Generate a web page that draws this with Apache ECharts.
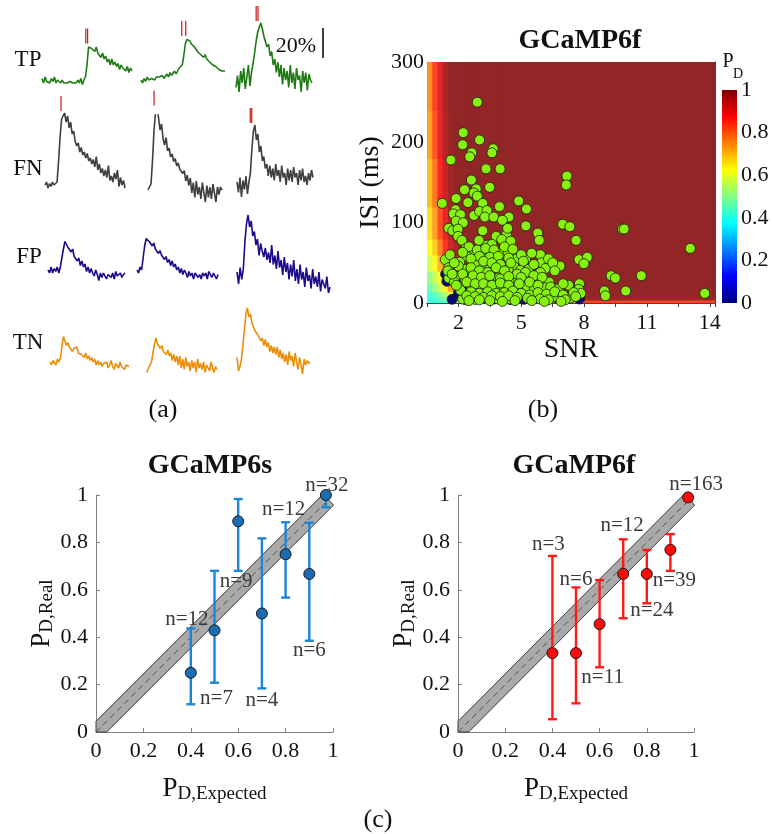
<!DOCTYPE html>
<html>
<head>
<meta charset="utf-8">
<script src="https://cdn.jsdelivr.net/npm/echarts@6/dist/echarts.min.js"></script>
<style>
  html, body { margin: 0; padding: 0; background: #fff; }
  #chart { width: 772px; height: 834px; }
</style>
</head>
<body>
<div id="chart"></div>
<script>
// ---------------- (a) example fluorescence traces, dF/F in % ----------------
const tp1 = [1,-2,2,-1,0,-2,1,-1,2,-2,0,-1,-2,0,-2,-1,-2,-2,-1,-2,-2,-1,-2,0,-2,1,-3,0,2,10,22,23,21,22,19,22,18,18,15,18,14,16,12,14,10,14,10,12,9,11,7,10,8,9,6,9,5,8,6];
const tp2 = [0,-2,1,-1,2,0,-1,1,2,0,2,1,2,2,3,1,2,4,2,5,3,4,6,4,6,8,7,10,16,24,27,28,26,24,25,22,22,19,20,17,18,15,17,14,14,12,13,10,11,9,10,7,8,6,7,6];
const tp3 = [-5,3,-8,6,-2,8,-6,2,10,-4,5,11,18,26,32,35,38,34,29,30,22,24,16,19,10,14,5,12,2,10,-3,8,0,6,-5,10,-2,5,-6,8,0,3,-8,6,-2,5,-7,4,0,-2];
const fn1 = [0,2,-2,1,-1,2,0,1,2,16,32,44,46,48,42,46,38,42,34,36,29,26,28,22,25,20,22,18,21,16,18,14,17,12,19,10,14,8,11,6,10,5,13,3,6,2,8,4,10,-1,5,0,3,-2];
const fn2 = [0,2,4,20,40,52,55,48,40,44,34,30,35,26,28,22,24,19,21,16,18,14,15,11,13,6,10,3,8,-2,5,-5,6,-3,2,-6,5,-2,-8,3,-5,2,-6,4,-2,-8,2,-3,2,0];
const fn3 = [2,-5,5,-8,3,-3,6,-6,2,8,24,36,40,30,34,22,26,16,19,11,14,6,13,5,11,3,14,6,10,2,13,5,8,0,11,3,10,2,12,5,8,0,10,3,11,2,6,0,8,3,10,5];
const fp1 = [0,-2,2,-2,1,-1,2,-2,2,8,14,19,18,15,16,12,14,9,10,6,8,3,6,2,4,-1,2,-2,1,-2,-4,0,-3,-7,-2,-5,-2,-1,-6,-3,-2,-5,-2,-6,-1,-4,-3,-2,-5,-3,-2];
const fp2 = [0,-2,2,0,8,16,21,22,19,20,16,18,14,15,11,13,10,10,7,9,5,7,3,6,2,4,0,2,-2,1,-3,0,-2,-5,-1,-4,-2,-6,-2,-1,-5,-3,-6,-2,-4,-2,-6,-1,-3,-5,-2,-4,-6,-3];
const fp3 = [0,-8,3,-5,2,20,32,38,30,34,24,27,18,22,11,19,14,10,16,8,13,6,18,5,11,2,14,3,8,-2,10,0,6,-5,5,-3,8,-6,2,-8,5,-5,0,-10,3,-6,-2,-11,2,-8,-3,-10,0,-13,-5,-8,-11,-3,-14,-10];
const tn1 = [0,-2,1,2,-2,2,0,3,10,17,14,11,13,10,10,7,9,8,10,6,7,5,6,3,6,2,4,1,3,0,2,-2,1,-2,0,-3,-1,-2,0,-4,-2,1,-3,-5,-1,-2,-4,0,-3,-2,-5,-2,-1,-3];
const tn2 = [-5,-2,0,2,8,14,18,14,15,11,13,9,10,7,10,6,8,3,7,2,6,0,6,-2,4,-3,5,-1,2,-4,3,-2,2,-5,4,-2,1,-3,2,-5,0,-2,-4,2,-2,-5,-1,-3];
const tn3 = [3,-6,-3,2,11,22,32,36,30,32,26,27,21,22,18,19,14,16,11,15,10,13,7,11,6,10,5,10,3,8,2,6,0,5,-2,7,1,4,-3,6,0,-5,3,-2,-8,2,-2,1,-1,0];
// detected spike times (sample index) per trace
const tpSpikes = [[28.2, 29.4], [26.7, 29.3], [13.0, 14.2]];
const fnSpikes = [[10.6], [4.0], [8.9, 9.9]];
const scaleBarPercent = 20;

// ---------------- (b) detection probability map, GCaMP6f ----------------
const snrEdges = [0.5, 0.75, 1.0, 1.25, 1.5, 1.75, 2.0, 2.5, 3.0, 4.0, 8.0, 14.25];
const isiEdges = [0, 4, 8, 15, 25, 40, 60, 80, 120, 180, 240, 300];
const pdRow0  = [0.40, 0.40, 0.41, 0.43, 0.46, 0.52, 0.62, 0.68, 0.70, 0.72, 0.84];
const pdRow1  = [0.40, 0.42, 0.45, 0.48, 0.53, 0.60, 0.74, 0.88, 0.96, 0.98, 0.99];
const pdRow2  = [0.42, 0.45, 0.49, 0.54, 0.60, 0.70, 0.86, 0.96, 0.99, 1, 1];
const pdRow3  = [0.46, 0.51, 0.57, 0.64, 0.73, 0.83, 0.94, 0.99, 1, 1, 1];
const pdRow4  = [0.51, 0.56, 0.63, 0.72, 0.82, 0.90, 0.97, 1, 1, 1, 1];
const pdRow5  = [0.58, 0.63, 0.71, 0.80, 0.88, 0.95, 0.99, 1, 1, 1, 1];
const pdRow6  = [0.62, 0.68, 0.77, 0.86, 0.93, 0.97, 1, 1, 1, 1, 1];
const pdRow7  = [0.66, 0.73, 0.83, 0.90, 0.96, 0.99, 1, 1, 1, 1, 1];
const pdRow8  = [0.70, 0.78, 0.88, 0.94, 0.98, 1, 1, 1, 1, 1, 1];
const pdRow9  = [0.73, 0.82, 0.90, 0.96, 0.99, 1, 1, 1, 1, 1, 1];
const pdRow10 = [0.75, 0.84, 0.91, 0.97, 1, 1, 1, 1, 1, 1, 1];
const pdRows = [pdRow0, pdRow1, pdRow2, pdRow3, pdRow4, pdRow5, pdRow6, pdRow7, pdRow8, pdRow9, pdRow10];

// recorded events [SNR, ISI ms]
const detectedEvents = [
  [2.90,250],[2.23,212],[3.01,203],[2.20,197],[2.64,187],[2.54,182],[3.66,192],[3.60,187],[1.64,178],[3.32,167],
  [3.99,167],[2.62,153],[3.49,144],[2.29,141],[2.85,142],[2.74,137],[2.90,133],[1.89,130],[2.45,125],[1.23,124],
  [3.16,124],[1.86,116],[1.76,111],[2.10,110],[2.74,109],[3.01,114],[3.36,115],[3.26,107],[3.69,107],[3.96,120],
  [4.41,107],[4.10,103],[1.89,102],[2.23,100],[4.88,127],[5.25,117],[1.54,93],[1.73,90],[1.98,92],[3.16,90],
  [3.80,83],[4.29,85],[4.35,93],[5.22,96],[5.79,87],[5.86,78],[6.98,98],[7.32,95],[7.18,158],[7.15,147],
  [7.62,78],[9.83,92],[9.91,92],[13.07,68],[1.98,83],[2.17,78],[2.36,68],[2.98,78],[3.37,72],[3.60,73],
  [4.07,79],[4.50,77],[2.74,61],[3.13,61],[3.52,62],[4.04,62],[4.38,63],[4.77,55],[5.21,55],[5.91,60],
  [7.76,54],[8.15,57],[7.99,49],[1.37,54],[2.07,51],[2.43,58],[2.88,47],[3.32,45],[3.83,52],[4.25,44],
  [4.66,45],[5.97,50],[6.15,43],[6.79,45],[6.85,46],[1.54,44],[2.36,42],[3.13,43],[3.44,41],[3.99,39],
  [4.38,42],[4.97,41],[5.35,42],[5.91,38],[9.29,34],[9.49,31],[10.73,34],[1.54,31],[1.89,33],[2.32,29],
  [2.54,24],[2.90,29],[3.29,31],[3.60,28],[3.91,31],[4.46,27],[4.88,29],[5.44,31],[5.93,28],[6.33,26],
  [2.04,20],[2.98,19],[3.37,21],[3.83,19],[4.19,17],[4.69,20],[5.28,21],[5.63,17],[6.12,19],[7.26,22],
  [7.78,24],[7.73,17],[8.97,15],[9.99,15],[9.02,9],[13.76,12],[2.20,5],[2.80,4.5],[3.88,5],[4.46,5],
  [5.63,8],[6.05,8],[6.56,8],[6.95,11],[7.34,6],[7.84,12],
  [2.5,70],[2.9,66],[3.3,68],[3.7,66],[4.2,70],[4.6,67],[2.2,63],[3.0,58],[3.5,57],[3.9,58],
  [4.4,56],[5.0,60],[5.5,62],[2.6,55],[3.2,52],[3.6,50],[4.0,48],[4.5,50],[5.1,52],[5.6,48],
  [6.3,55],[6.5,50],[2.0,46],[2.6,44],[3.0,40],[3.4,38],[3.8,44],[4.2,40],[4.8,36],[5.2,38],
  [5.6,34],[6.0,32],[6.6,40],[2.2,36],[2.7,34],[3.1,32],[3.5,34],[4.0,30],[4.4,33],[5.0,32],
  [5.4,26],[5.8,22],[6.4,20],[6.8,18],[7.0,24],[1.8,26],[2.4,26],[2.8,24],[3.2,24],[3.6,22],
  [4.0,25],[4.4,22],[4.9,24],[2.1,16],[2.6,14],[3.0,12],[3.4,14],[3.8,12],[4.2,13],[4.6,15],
  [5.0,12],[5.4,10],[5.8,13],[6.2,11],[6.6,14],[7.0,10],[7.5,13],[2.4,9],[2.8,8],[3.2,7],
  [3.6,9],[4.0,8],[4.4,9],[4.8,7],[5.3,6],[5.9,5],[6.3,4],[7.1,4],[7.6,8],[2.5,3],
  [3.0,4],[3.5,3],[4.1,2],[4.7,3],[5.5,3],[6.1,2],[6.9,2],[1.6,60],[1.8,50],[1.5,40],
  [1.7,36],[1.9,22]
];
const missedEvents = [
  [1.39,36],[2.12,32],[2.43,22],[2.62,17],[2.95,15],[3.15,10],[1.70,4.6],[2.66,7.8],[3.32,5.8],[5.13,4.6],
  [6.79,4.6],[7.78,5],[1.45,27],[2.0,12],[3.7,5],[4.5,4],[2.35,4]
];

// ---------------- (c) expected vs. measured detection probability ----------------
const pdExpected6s = [0.4, 0.5, 0.6, 0.7, 0.8, 0.9, 0.97];
const pdReal6s     = [0.25, 0.429, 0.889, 0.5, 0.75, 0.667, 1.0];
const pdLow6s      = [0.117, 0.208, 0.68, 0.184, 0.567, 0.385, 0.948];
const pdHigh6s     = [0.437, 0.68, 0.983, 0.817, 0.885, 0.883, 1.0];
const count6s      = [12, 7, 9, 4, 12, 6, 32];

const pdExpected6f = [0.4, 0.5, 0.6, 0.7, 0.8, 0.9, 0.975];
const pdReal6f     = [0.333, 0.333, 0.455, 0.667, 0.667, 0.769, 0.99];
const pdLow6f      = [0.054, 0.121, 0.273, 0.48, 0.543, 0.68, 0.975];
const pdHigh6f     = [0.743, 0.61, 0.641, 0.813, 0.768, 0.835, 1.0];
const count6f      = [3, 6, 11, 12, 24, 39, 163];

const tolerance = 0.045;   // half-height of the grey agreement band
const bandEnd = 0.98;

// ================= layout & styling =================
const SERIF = '"Liberation Serif", "Times New Roman", serif';
const jet = ['#00007f', '#0000ff', '#007fff', '#00ffff', '#7fff7f', '#ffff00', '#ff7f00', '#ff0000', '#7f0000'];
// the surface is drawn slightly washed out (85 % colour over white)
function soften(hex, k) {
  const n = parseInt(hex.slice(1), 16);
  const ch = [(n >> 16) & 255, (n >> 8) & 255, n & 255].map(v => Math.round(v * k + 255 * (1 - k)));
  return 'rgb(' + ch.join(',') + ')';
}
const jetSoft = jet.map(c => soften(c, 0.85));

const grids = [], xAxes = [], yAxes = [], series = [], graphics = [];
function addGrid(g, xa, ya) {
  grids.push(g);
  const gi = grids.length - 1;
  xAxes.push(Object.assign({ gridIndex: gi }, xa));
  yAxes.push(Object.assign({ gridIndex: gi }, ya));
  return { gi, xi: xAxes.length - 1, yi: yAxes.length - 1 };
}
function text(x, y, str, size, extra) {
  graphics.push({
    type: 'text', x, y, silent: true,
    style: Object.assign({ text: str, fontFamily: SERIF, fontSize: size, fill: '#111', align: 'center', verticalAlign: 'middle' }, extra || {})
  });
}

// ---- (a) traces ----
const pxPerPercent = 1.5, traceMin = -20, traceMax = 50;
const traceRows = [
  { label: 'TP', color: '#1e7b14', traces: [tp1, tp2, tp3], spikes: tpSpikes, labelPos: [28, 60] },
  { label: 'FN', color: '#3f3f3f', traces: [fn1, fn2, fn3], spikes: fnSpikes, labelPos: [28, 169] },
  { label: 'FP', color: '#1b0a8a', traces: [fp1, fp2, fp3], spikes: [[], [], []], labelPos: [29, 257] },
  { label: 'TN', color: '#ea8f0c', traces: [tn1, tn2, tn3], spikes: [[], [], []], labelPos: [28, 343] }
];
const traceBoxes = [
  [[42, 132, 80], [141, 225, 80], [236, 312, 80]],
  [[45, 125, 185], [148, 222, 190], [237, 313, 185]],
  [[48, 125, 270], [137, 218, 270], [237, 330, 272]],
  [[50, 129, 362], [147, 217, 365], [237, 310, 362]]
];
traceRows.forEach((row, r) => {
  text(row.labelPos[0], row.labelPos[1], row.label, 23);
  row.traces.forEach((tr, c) => {
    const [l, rgt, base] = traceBoxes[r][c];
    const ax = addGrid(
      { left: l, width: rgt - l, top: base - traceMax * pxPerPercent, height: (traceMax - traceMin) * pxPerPercent },
      { type: 'value', min: 0, max: tr.length - 1, show: false },
      { type: 'value', min: traceMin, max: traceMax, show: false }
    );
    series.push({
      type: 'line', xAxisIndex: ax.xi, yAxisIndex: ax.yi, silent: true,
      data: tr.map((v, i) => [i, v]), showSymbol: false, animation: false,
      lineStyle: { color: row.color, width: 1.6 }
    });
    const peak = Math.max.apply(null, tr);
    if (row.spikes[c].length) {
      series.push({
        type: 'custom', xAxisIndex: ax.xi, yAxisIndex: ax.yi, silent: true, clip: false, animation: false,
        data: row.spikes[c].map(t => [t]),
        renderItem: (p, api) => {
          const pt = api.coord([api.value(0), peak]);
          return { type: 'line', shape: { x1: pt[0], y1: pt[1] - 2, x2: pt[0], y2: pt[1] - 17 },
                   style: { stroke: '#c41a1a', lineWidth: 1.2 } };
        }
      });
    }
  });
});
// 20 % scale bar
{
  const ax = addGrid(
    { left: 318, width: 10, top: 28, height: scaleBarPercent * pxPerPercent },
    { type: 'value', min: -1, max: 1, show: false },
    { type: 'value', min: 0, max: scaleBarPercent, show: false }
  );
  series.push({ type: 'line', xAxisIndex: ax.xi, yAxisIndex: ax.yi, silent: true, animation: false,
    data: [[0, 0], [0, scaleBarPercent]], showSymbol: false, lineStyle: { color: '#111', width: 1.6 } });
  text(296, 46, scaleBarPercent + '%', 22);
}

// ---- (b) detection probability map ----
const frameColor = '#444';
const mapAx = addGrid(
  { left: 427, top: 62, width: 288, height: 241 },
  { type: 'value', min: 0.5, max: 14.25, interval: 1.5,
    name: 'SNR', nameLocation: 'middle', nameGap: 33,
    nameTextStyle: { fontFamily: SERIF, fontSize: 28, color: '#111' },
    axisLine: { lineStyle: { color: frameColor } }, splitLine: { show: false },
    axisTick: { inside: true, length: 4, lineStyle: { color: frameColor } },
    axisLabel: { fontFamily: SERIF, fontSize: 22, color: '#111', margin: 9, showMaxLabel: false,
      formatter: v => { const k = (v - 2) / 3; return Math.abs(k - Math.round(k)) < 1e-6 ? String(Math.round(v)) : ''; } } },
  { type: 'value', min: 0, max: 300, interval: 50,
    name: 'ISI (ms)', nameLocation: 'middle', nameGap: 42, nameRotate: 90,
    nameTextStyle: { fontFamily: SERIF, fontSize: 28, color: '#111' },
    axisLine: { lineStyle: { color: frameColor } }, splitLine: { show: false },
    axisTick: { inside: true, length: 4, lineStyle: { color: frameColor } },
    axisLabel: { fontFamily: SERIF, fontSize: 22, color: '#111', margin: 3,
      formatter: v => (v % 100 === 0 ? String(v) : '') } }
);
// frame: top and right axes with ticks only
xAxes.push({ gridIndex: mapAx.gi, type: 'value', position: 'top', min: 0.5, max: 14.25, interval: 1.5,
  axisLine: { lineStyle: { color: frameColor } }, axisTick: { inside: true, length: 4, lineStyle: { color: frameColor } },
  axisLabel: { show: false }, splitLine: { show: false } });
yAxes.push({ gridIndex: mapAx.gi, type: 'value', position: 'right', min: 0, max: 300, interval: 50,
  axisLine: { lineStyle: { color: frameColor } }, axisTick: { inside: true, length: 4, lineStyle: { color: frameColor } },
  axisLabel: { show: false }, splitLine: { show: false } });

const mapCells = [];
pdRows.forEach((row, r) => row.forEach((pd, c) => {
  mapCells.push([snrEdges[c], snrEdges[c + 1], isiEdges[r], isiEdges[r + 1], pd]);
}));
const heatIndex = series.length;
series.push({
  type: 'custom', xAxisIndex: mapAx.xi, yAxisIndex: mapAx.yi, silent: true, animation: false, clip: true,
  data: mapCells, z: 1,
  renderItem: (p, api) => {
    const a = api.coord([api.value(0), api.value(3)]);
    const b = api.coord([api.value(1), api.value(2)]);
    return { type: 'rect', shape: { x: a[0], y: a[1], width: b[0] - a[0] + 0.8, height: b[1] - a[1] + 0.8 },
             style: { fill: api.visual('color') } };
  }
});
series.push({
  type: 'scatter', xAxisIndex: mapAx.xi, yAxisIndex: mapAx.yi, silent: true, animation: false, z: 3,
  data: missedEvents, symbolSize: 10,
  itemStyle: { color: '#0a0a7a', borderColor: '#111', borderWidth: 0.8, opacity: 1 }
});
series.push({
  type: 'scatter', xAxisIndex: mapAx.xi, yAxisIndex: mapAx.yi, silent: true, animation: false, z: 4,
  data: detectedEvents, symbolSize: 10,
  itemStyle: { color: '#86f20e', borderColor: '#1a1a1a', borderWidth: 0.8, opacity: 1 }
});

// colour bar
const cbAx = addGrid(
  { left: 722, top: 90, width: 15, height: 213 },
  { type: 'value', min: 0, max: 1, show: false },
  { type: 'value', min: 0, max: 1, interval: 0.2, position: 'right',
    axisLine: { show: false }, axisTick: { show: false }, splitLine: { show: false },
    axisLabel: { fontFamily: SERIF, fontSize: 22, color: '#111', margin: 4,
      formatter: v => String(+v.toFixed(1)) } }
);
series.push({
  type: 'custom', xAxisIndex: cbAx.xi, yAxisIndex: cbAx.yi, silent: true, animation: false,
  data: [[0, 0, 1, 1]],
  renderItem: (p, api) => {
    const a = api.coord([api.value(0), api.value(3)]);
    const b = api.coord([api.value(2), api.value(1)]);
    return { type: 'rect', shape: { x: a[0], y: a[1], width: b[0] - a[0], height: b[1] - a[1] },
      style: { fill: new echarts.graphic.LinearGradient(0, 1, 0, 0, jet.map((c, i) => ({ offset: i / (jet.length - 1), color: c }))) } };
  }
});
text(728, 62, 'P', 20);
text(738, 74, 'D', 14);
text(580, 41, 'GCaMP6f', 28, { fontWeight: 'bold' });

// ---- (c) calibration plots ----
const axisGrey = '#808080';
function calibAxis(isY, name) {
  return {
    type: 'value', min: 0, max: 1, interval: 0.2,
    name: name, nameLocation: 'middle', nameGap: isY ? 38 : 33, nameRotate: isY ? 90 : 0,
    nameTextStyle: {
      fontFamily: SERIF, color: '#111',
      rich: {
        p: { fontFamily: SERIF, fontSize: 27, color: '#111', verticalAlign: 'top', lineHeight: 28 },
        s: { fontFamily: SERIF, fontSize: 19, color: '#111', verticalAlign: 'bottom', lineHeight: 19, padding: [22, 0, 0, 0] }
      }
    },
    axisLine: { lineStyle: { color: axisGrey } },
    axisTick: { inside: true, length: 4, lineStyle: { color: axisGrey } },
    splitLine: { show: false },
    axisLabel: { fontFamily: SERIF, fontSize: 22, color: '#111', margin: 8,
      formatter: v => String(+v.toFixed(1)) }
  };
}
function calibPanel(box, xs, ys, lo, hi, counts, offsets, barColor, dotColor, title) {
  const ax = addGrid(box, calibAxis(false, '{p|P}{s|D,Expected}'), calibAxis(true, '{p|P}{s|D,Real}'));
  // grey agreement band around the identity line
  series.push({
    type: 'custom', xAxisIndex: ax.xi, yAxisIndex: ax.yi, silent: true, animation: false, clip: false, z: 1,
    data: [[tolerance, bandEnd]],
    renderItem: (p, api) => {
      const h = api.value(0), e = api.value(1);
      const pts = [[0, 0], [0, h], [e - h / 2, e + h / 2], [e + h / 2, e - h / 2], [h, 0]].map(q => api.coord(q));
      return { type: 'polygon', shape: { points: pts }, style: { fill: '#a9a9a9', stroke: '#3c3c3c', lineWidth: 1 } };
    }
  });
  series.push({
    type: 'custom', xAxisIndex: ax.xi, yAxisIndex: ax.yi, silent: true, animation: false, clip: false, z: 2,
    data: [[0, bandEnd]],
    renderItem: (p, api) => {
      const a = api.coord([api.value(0), api.value(0)]), b = api.coord([api.value(1), api.value(1)]);
      return { type: 'line', shape: { x1: a[0], y1: a[1], x2: b[0], y2: b[1] },
               style: { stroke: '#505050', lineWidth: 1, lineDash: [6, 4] } };
    }
  });
  // error bars
  series.push({
    type: 'custom', xAxisIndex: ax.xi, yAxisIndex: ax.yi, silent: true, animation: false, clip: false, z: 3,
    data: xs.map((x, i) => [x, lo[i], hi[i]]),
    renderItem: (p, api) => {
      const a = api.coord([api.value(0), api.value(1)]), b = api.coord([api.value(0), api.value(2)]);
      const st = { stroke: barColor, lineWidth: 2.4 };
      return { type: 'group', children: [
        { type: 'line', shape: { x1: a[0], y1: a[1], x2: b[0], y2: b[1] }, style: st },
        { type: 'line', shape: { x1: a[0] - 4.5, y1: a[1], x2: a[0] + 4.5, y2: a[1] }, style: st },
        { type: 'line', shape: { x1: b[0] - 4.5, y1: b[1], x2: b[0] + 4.5, y2: b[1] }, style: st }
      ] };
    }
  });
  series.push({
    type: 'scatter', xAxisIndex: ax.xi, yAxisIndex: ax.yi, silent: true, animation: false, z: 4,
    symbolSize: 11,
    itemStyle: { color: dotColor, borderColor: '#1a1a1a', borderWidth: 1, opacity: 1 },
    data: xs.map((x, i) => ({
      value: [x, ys[i]],
      label: { show: true, position: 'inside', offset: offsets[i], formatter: 'n=' + counts[i],
               fontFamily: SERIF, fontSize: 21, color: '#3a3a3a' }
    }))
  });
  text(title[0], title[1], title[2], 28, { fontWeight: 'bold' });
}
calibPanel({ left: 96, top: 495, width: 237, height: 237 }, pdExpected6s, pdReal6s, pdLow6s, pdHigh6s, count6s,
  [[-4, -53], [2, 68], [-2, 60], [0, 87], [-2, -45], [0, 77], [1, -10]], '#1c86d6', '#1a6db3', [210, 466, 'GCaMP6s']);
calibPanel({ left: 458, top: 495, width: 236, height: 237 }, pdExpected6f, pdReal6f, pdLow6f, pdHigh6f, count6f,
  [[-4, -109], [0, -74], [3, 53], [-1, -48], [5, 37], [4, 31], [8, -13]], '#ff1a1a', '#ff0a0a', [574, 466, 'GCaMP6f']);

// panel letters
text(163, 410, '(a)', 26);
text(543, 410, '(b)', 26);
text(378, 820, '(c)', 26);

const chart = echarts.init(document.getElementById('chart'), null, { renderer: 'canvas' });
chart.setOption({
  animation: false,
  backgroundColor: '#fff',
  grid: grids,
  xAxis: xAxes,
  yAxis: yAxes,
  visualMap: [{ type: 'continuous', show: false, min: 0, max: 1, dimension: 4, seriesIndex: heatIndex,
                inRange: { color: jetSoft } }],
  series: series,
  graphic: graphics
});
</script>
</body>
</html>
